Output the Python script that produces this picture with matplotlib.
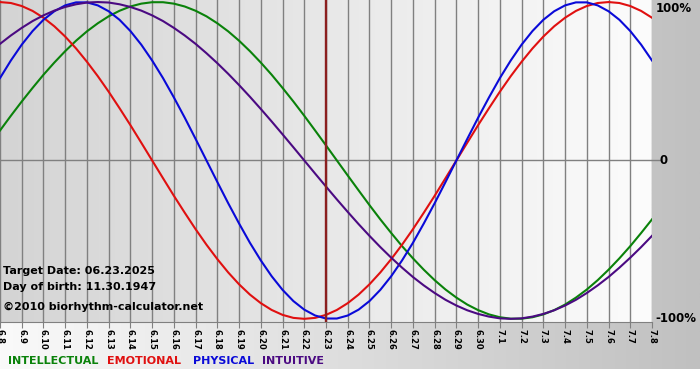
import numpy as np
import matplotlib
matplotlib.use("Agg")
import matplotlib.pyplot as plt
from matplotlib.colors import LinearSegmentedColormap

# day labels, 6.8 .. 7.8
days = ["6.%d" % d for d in range(8, 31)] + ["7.%d" % d for d in range(1, 9)]
target_idx = days.index("6.23")

# values (-1 .. 1), every half day from 6.8 to 7.8
intellectual = [0.189, 0.282, 0.372, 0.458, 0.541, 0.618, 0.690, 0.756, 0.815, 0.866,
                0.910, 0.945, 0.972, 0.990, 0.999, 0.999, 0.990, 0.972, 0.945, 0.910,
                0.866, 0.815, 0.756, 0.690, 0.618, 0.541, 0.458, 0.372, 0.282, 0.189,
                0.095, 0.000, -0.095, -0.189, -0.282, -0.372, -0.458, -0.541, -0.618,
                -0.690, -0.756, -0.815, -0.866, -0.910, -0.945, -0.972, -0.990, -0.999,
                -0.999, -0.990, -0.972, -0.945, -0.910, -0.866, -0.815, -0.756, -0.690,
                -0.618, -0.541, -0.458, -0.372]
emotional = [1.000, 0.994, 0.975, 0.944, 0.901, 0.847, 0.782, 0.707, 0.623, 0.532,
             0.434, 0.330, 0.223, 0.112, 0.000, -0.112, -0.223, -0.330, -0.434, -0.532,
             -0.623, -0.707, -0.782, -0.847, -0.901, -0.944, -0.975, -0.994, -1.000,
             -0.994, -0.975, -0.944, -0.901, -0.847, -0.782, -0.707, -0.623, -0.532,
             -0.434, -0.330, -0.223, -0.112, 0.000, 0.112, 0.223, 0.330, 0.434, 0.532,
             0.623, 0.707, 0.782, 0.847, 0.901, 0.944, 0.975, 0.994, 1.000, 0.994,
             0.975, 0.944, 0.901]
physical = [0.520, 0.631, 0.731, 0.817, 0.888, 0.942, 0.979, 0.998, 0.998, 0.979,
            0.942, 0.888, 0.817, 0.731, 0.631, 0.520, 0.398, 0.270, 0.136, 0.000,
            -0.136, -0.270, -0.398, -0.520, -0.631, -0.731, -0.817, -0.888, -0.942,
            -0.979, -0.998, -0.998, -0.979, -0.942, -0.888, -0.817, -0.731, -0.631,
            -0.520, -0.398, -0.270, -0.136, 0.000, 0.136, 0.270, 0.398, 0.520, 0.631,
            0.731, 0.817, 0.888, 0.942, 0.979, 0.998, 0.998, 0.979, 0.942, 0.888,
            0.817, 0.731, 0.631]
intuitive = [0.736, 0.789, 0.837, 0.880, 0.916, 0.946, 0.969, 0.986, 0.997, 1.000,
             0.997, 0.986, 0.969, 0.946, 0.916, 0.880, 0.837, 0.789, 0.736, 0.677,
             0.614, 0.547, 0.476, 0.402, 0.325, 0.246, 0.165, 0.083, 0.000, -0.083,
             -0.165, -0.246, -0.325, -0.402, -0.476, -0.547, -0.614, -0.677, -0.736,
             -0.789, -0.837, -0.880, -0.916, -0.946, -0.969, -0.986, -0.997, -1.000,
             -0.997, -0.986, -0.969, -0.946, -0.916, -0.880, -0.837, -0.789, -0.736,
             -0.677, -0.614, -0.547, -0.476]

series = [("INTELLECTUAL", intellectual, "#0a820a"),
          ("EMOTIONAL", emotional, "#e01010"),
          ("PHYSICAL", physical, "#0a0ad8"),
          ("INTUITIVE", intuitive, "#4b0a82")]

W, H = 700, 380
fig = plt.figure(figsize=(W / 100, H / 100), dpi=100)
fig.patch.set_facecolor("white")

# outer gradient background (white strip at the very bottom)
bg = fig.add_axes([0, 11 / H, 1, 1 - 11 / H], zorder=-10)
bg_cmap = LinearSegmentedColormap.from_list("bg", ["#fafafa", "#c0c0c0"])
bg.imshow(np.linspace(0, 1, 256).reshape(1, -1), cmap=bg_cmap, aspect="auto",
          extent=[0, 1, 0, 1])
bg.set_axis_off()

# plot area
ax = fig.add_axes([0, 1 - 322 / H, 652 / W, 322 / H])
pa_cmap = LinearSegmentedColormap.from_list("pa", ["#d4d4d4", "#fcfcfc"])
ax.imshow(np.linspace(0, 1, 256).reshape(1, -1), cmap=pa_cmap, aspect="auto",
          extent=[0, 1, 0, 1], transform=ax.transAxes, zorder=0)

x = np.arange(len(days))
for xi in x:
    ax.axvline(xi, color="#808080", lw=1.0, zorder=1)
ax.axhline(0, color="#808080", lw=1.0, zorder=1)
ax.plot([len(days) - 1, len(days) - 0.62], [0, 0], color="#808080", lw=1.0,
        clip_on=False, zorder=1)

t = np.arange(len(physical)) / 2.0
for name, vals, col in series:
    ax.plot(t, vals, color=col, lw=1.5, zorder=3)

ax.axvline(target_idx, color="#8b1f1f", lw=1.7, zorder=4)

ax.set_xlim(0, len(days) - 1)
ax.set_ylim(-1.02, 1.013)
ax.set_xticks(x)
ax.set_xticklabels(days, rotation=270, fontsize=6, fontweight="bold")
ax.tick_params(axis="x", length=4, color="#808080", pad=1)
ax.set_yticks([])
for s in ["left", "top", "right"]:
    ax.spines[s].set_visible(False)
ax.spines["bottom"].set_color("#808080")

# right-hand labels
ty = ax.get_yaxis_transform()
ax.text(1.005, 1.0, "100%", transform=ty, ha="left", va="top",
        fontsize=8.5, fontweight="bold")
ax.text(1.012, 0.0, "0", transform=ty, ha="left", va="center",
        fontsize=8.5, fontweight="bold")
ax.text(1.005, -1.0, "-100%", transform=ty, ha="left", va="center",
        fontsize=8.5, fontweight="bold")

# info text
fig.text(3 / W, 1 - 271 / H, "Target Date: 06.23.2025", fontsize=8,
         fontweight="bold", va="center")
fig.text(3 / W, 1 - 287 / H, "Day of birth: 11.30.1947", fontsize=8,
         fontweight="bold", va="center")
fig.text(3 / W, 1 - 307 / H, "\u00a92010 biorhythm-calculator.net", fontsize=8,
         fontweight="bold", va="center")

# legend
lx = [8, 107, 193, 262]
for (name, vals, col), px in zip(series, lx):
    fig.text(px / W, 1 - 361 / H, name, color=col, fontsize=8,
             fontweight="bold", va="center")

fig.savefig("out.png", dpi=100)
